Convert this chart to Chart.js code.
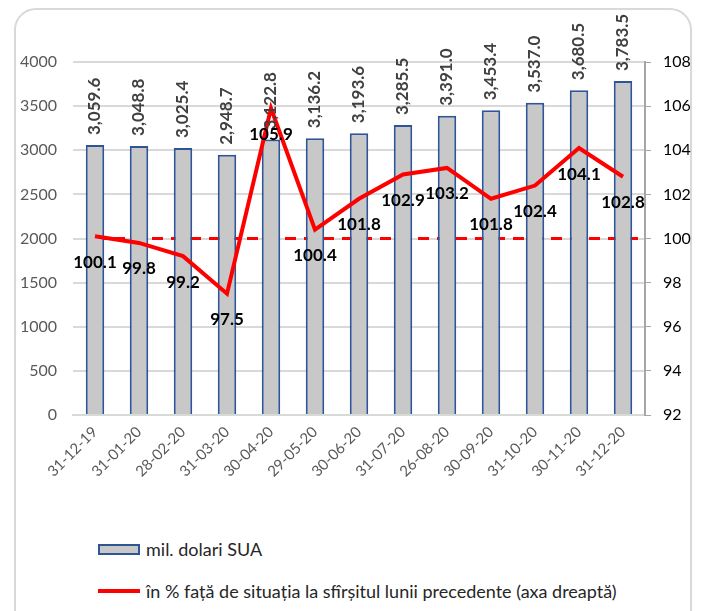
<!DOCTYPE html>
<html>
<head>
<meta charset="utf-8">
<script src="https://cdn.jsdelivr.net/npm/chart.js@4/dist/chart.umd.min.js"></script>
<style>
  body { margin: 0; background: #fff; font-family: Lato, "Open Sans", sans-serif; }
  #wrap { position: relative; width: 702px; height: 611px; overflow: hidden; }
  #frame { position: absolute; left: 14px; top: 8px; width: 678px; height: 640px;
           border: 2px solid #d9d9d9; border-radius: 22px; box-sizing: border-box; }
  #chartBox { position: absolute; left: 0; top: 0; width: 702px; height: 510px; }
  .leg { position: absolute; left: 98px; display: flex; align-items: center;
         font-size: 18px; color: #262626; }
  .leg .sw { width: 42px; margin-right: 6px; box-sizing: border-box; }
</style>
</head>
<body>
<div id="wrap">
  <div id="frame"></div>
  <div id="chartBox"><canvas id="chart"></canvas></div>
  <div class="leg" style="top:538px"><div class="sw" style="height:11px;background:#c8c8c8;border:2px solid #2f5597"></div><span id="leg1"></span></div>
  <div class="leg" style="top:580px"><div class="sw" style="height:4px;background:#ff0000"></div><span id="leg2"></span></div>
</div>
<script>
// date labels (end of month)
const dates = ["31-12-19", "31-01-20", "28-02-20", "31-03-20", "30-04-20", "29-05-20", "30-06-20",
               "31-07-20", "26-08-20", "30-09-20", "31-10-20", "30-11-20", "31-12-20"];
// mil. dolari SUA
const reserves = [3059.6, 3048.8, 3025.4, 2948.7, 3122.8, 3136.2, 3193.6,
                  3285.5, 3391.0, 3453.4, 3537.0, 3680.5, 3783.5];
// % vs previous month end
const pctPrev = [100.1, 99.8, 99.2, 97.5, 105.9, 100.4, 101.8,
                 102.9, 103.2, 101.8, 102.4, 104.1, 102.8];
const refLevel = 100;

const barLabel = "mil. dolari SUA";
const lineLabel = "în % față de situația la sfîrșitul lunii precedente (axa dreaptă)";
document.getElementById("leg1").textContent = barLabel;
document.getElementById("leg2").textContent = lineLabel;

function fmt(v) {
  return v.toLocaleString("en-US", { minimumFractionDigits: 1, maximumFractionDigits: 1 });
}

// dashed 100% reference line, drawn under the red line
const refLine = {
  id: "refLine",
  beforeDatasetsDraw(chart) {
    const ctx = chart.ctx;
    const y = chart.scales.y2.getPixelForValue(refLevel);
    const x0 = chart.getDatasetMeta(0).data[0].x;
    ctx.save();
    ctx.strokeStyle = "#ff0000";
    ctx.lineWidth = 3;
    ctx.setLineDash([11, 8]);
    ctx.beginPath();
    ctx.moveTo(x0, y);
    ctx.lineTo(chart.chartArea.right, y);
    ctx.stroke();
    ctx.restore();
  }
};

// value labels: vertical above bars, bold below line points
const valueLabels = {
  id: "valueLabels",
  afterDatasetsDraw(chart) {
    const ctx = chart.ctx;
    ctx.save();
    const bars = chart.getDatasetMeta(0).data;
    ctx.font = "bold 17px Lato";
    ctx.fillStyle = "#404040";
    ctx.textAlign = "left";
    ctx.textBaseline = "middle";
    bars.forEach((b, i) => {
      ctx.save();
      ctx.translate(b.x, b.y - 10);
      ctx.rotate(-Math.PI / 2);
      ctx.fillText(fmt(reserves[i]), 0, 0);
      ctx.restore();
    });
    const pts = chart.getDatasetMeta(1).data;
    ctx.font = "bold 17px Lato";
    ctx.fillStyle = "#000";
    ctx.textAlign = "center";
    pts.forEach((p, i) => {
      ctx.fillText(pctPrev[i].toFixed(1), p.x, p.y + 26);
    });
    ctx.restore();
  }
};

new Chart(document.getElementById("chart"), {
  type: "bar",
  data: {
    labels: dates,
    datasets: [
      {
        type: "bar",
        label: barLabel,
        data: reserves,
        yAxisID: "y",
        backgroundColor: "#c8c8c8",
        borderColor: "#2f5597",
        borderWidth: 2,
        barPercentage: 0.42,
        categoryPercentage: 1,
        order: 2
      },
      {
        type: "line",
        label: lineLabel,
        data: pctPrev,
        yAxisID: "y2",
        borderColor: "#ff0000",
        borderWidth: 4,
        pointRadius: 0,
        tension: 0,
        order: 1
      }
    ]
  },
  options: {
    responsive: true,
    maintainAspectRatio: false,
    animation: false,
    layout: { padding: { top: 62, left: 0, right: 0, bottom: 0 } },
    plugins: { legend: { display: false }, tooltip: { enabled: false } },
    scales: {
      x: {
        grid: { display: false, drawTicks: false },
        border: { color: "#d9d9d9", width: 2 },
        ticks: { color: "#595959", font: { family: "Lato", size: 15 }, minRotation: 45, maxRotation: 45, padding: 8 },
        afterFit(s) { s.height = 95; }
      },
      y: {
        position: "left",
        min: 0, max: 4000,
        ticks: { stepSize: 500, color: "#595959", font: { family: "Lato", size: 16 }, padding: 16,
                 callback: v => String(v) },
        grid: { color: "#d9d9d9", lineWidth: 2, drawTicks: false },
        border: { display: false },
        afterFit(s) { s.width = 73; }
      },
      y2: {
        position: "right",
        min: 92, max: 108,
        ticks: { stepSize: 2, color: "#000", font: { family: "Lato", size: 16 }, padding: 12 },
        grid: { drawOnChartArea: false, color: "#a6a6a6", tickLength: 6 },
        border: { color: "#a6a6a6", width: 2 },
        afterFit(s) { s.width = 57; }
      }
    }
  },
  plugins: [refLine, valueLabels]
});
</script>
</body>
</html>
